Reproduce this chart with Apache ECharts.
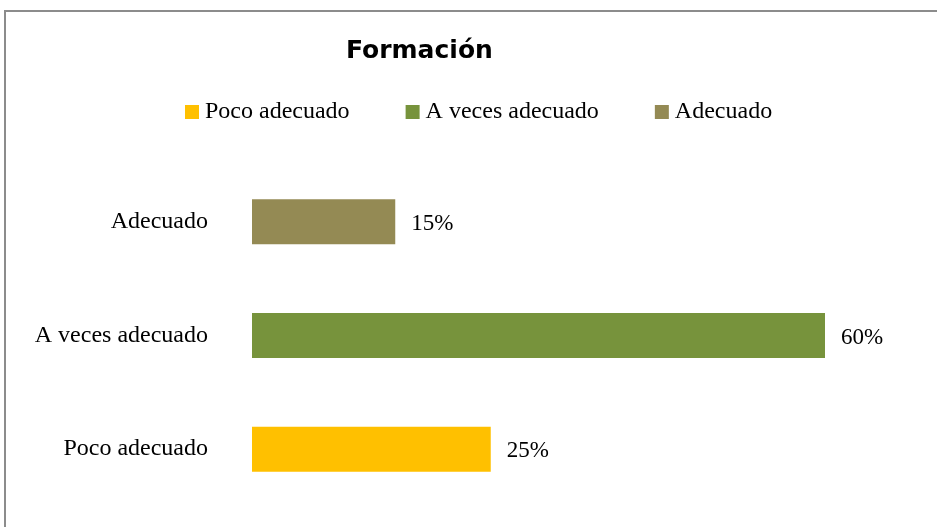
<!DOCTYPE html>
<html>
<head>
<meta charset="utf-8">
<script src="https://cdn.jsdelivr.net/npm/echarts@6/dist/echarts.min.js"></script>
<style>
  html, body { margin: 0; padding: 0; background: #fff; }
  #chart { width: 937px; height: 527px; }
</style>
</head>
<body>
<div id="chart"></div>
<script>
const categories = ['Poco adecuado', 'A veces adecuado', 'Adecuado']
const values = [25, 60, 15]
const colors = ['#FFC000', '#77933C', '#948A54']

const serif = '"Liberation Serif", "DejaVu Serif", serif'

const chart = echarts.init(document.getElementById('chart'), null, { renderer: 'canvas' })

// one series per category so the legend shows each colour
const series = categories.map((name, i) => ({
  name: name,
  type: 'bar',
  stack: 'all',
  barWidth: 45,
  itemStyle: { color: colors[i] },
  label: {
    show: true,
    position: 'right',
    distance: 16,
    offset: [0, 2],
    formatter: '{c}%',
    fontFamily: serif,
    fontSize: 23,
    color: '#000'
  },
  data: values.map((v, j) => (j === i ? v : '-'))
}))

const option = {
  animation: false,
  backgroundColor: '#fff',
  title: {
    text: 'Formación',
    left: 341,
    top: 34,
    textStyle: {
      fontFamily: '"DejaVu Sans", sans-serif',
      fontWeight: 'bold',
      fontSize: 25,
      color: '#000'
    }
  },
  legend: {
    top: 95,
    left: 180,
    itemWidth: 14,
    itemHeight: 14,
    itemGap: 56,
    icon: 'rect',
    textStyle: { fontFamily: serif, fontSize: 24, color: '#000', padding: [0, 0, 0, 1] },
    data: categories
  },
  graphic: [
    {
      type: 'rect',
      shape: { x: 5, y: 11, width: 960, height: 540 },
      style: { fill: 'none', stroke: '#8c8c8c', lineWidth: 2 },
      silent: true
    }
  ],
  grid: { left: 252, right: 16.5, top: 165, bottom: 21, containLabel: false },
  xAxis: {
    type: 'value',
    min: 0,
    max: 70,
    show: false
  },
  yAxis: {
    type: 'category',
    data: categories,
    axisLine: { show: false },
    axisTick: { show: false },
    axisLabel: {
      margin: 44,
      fontFamily: serif,
      fontSize: 24,
      color: '#000'
    }
  },
  series: series
}

chart.setOption(option)
window.addEventListener('resize', chart.resize)
</script>
</body>
</html>
